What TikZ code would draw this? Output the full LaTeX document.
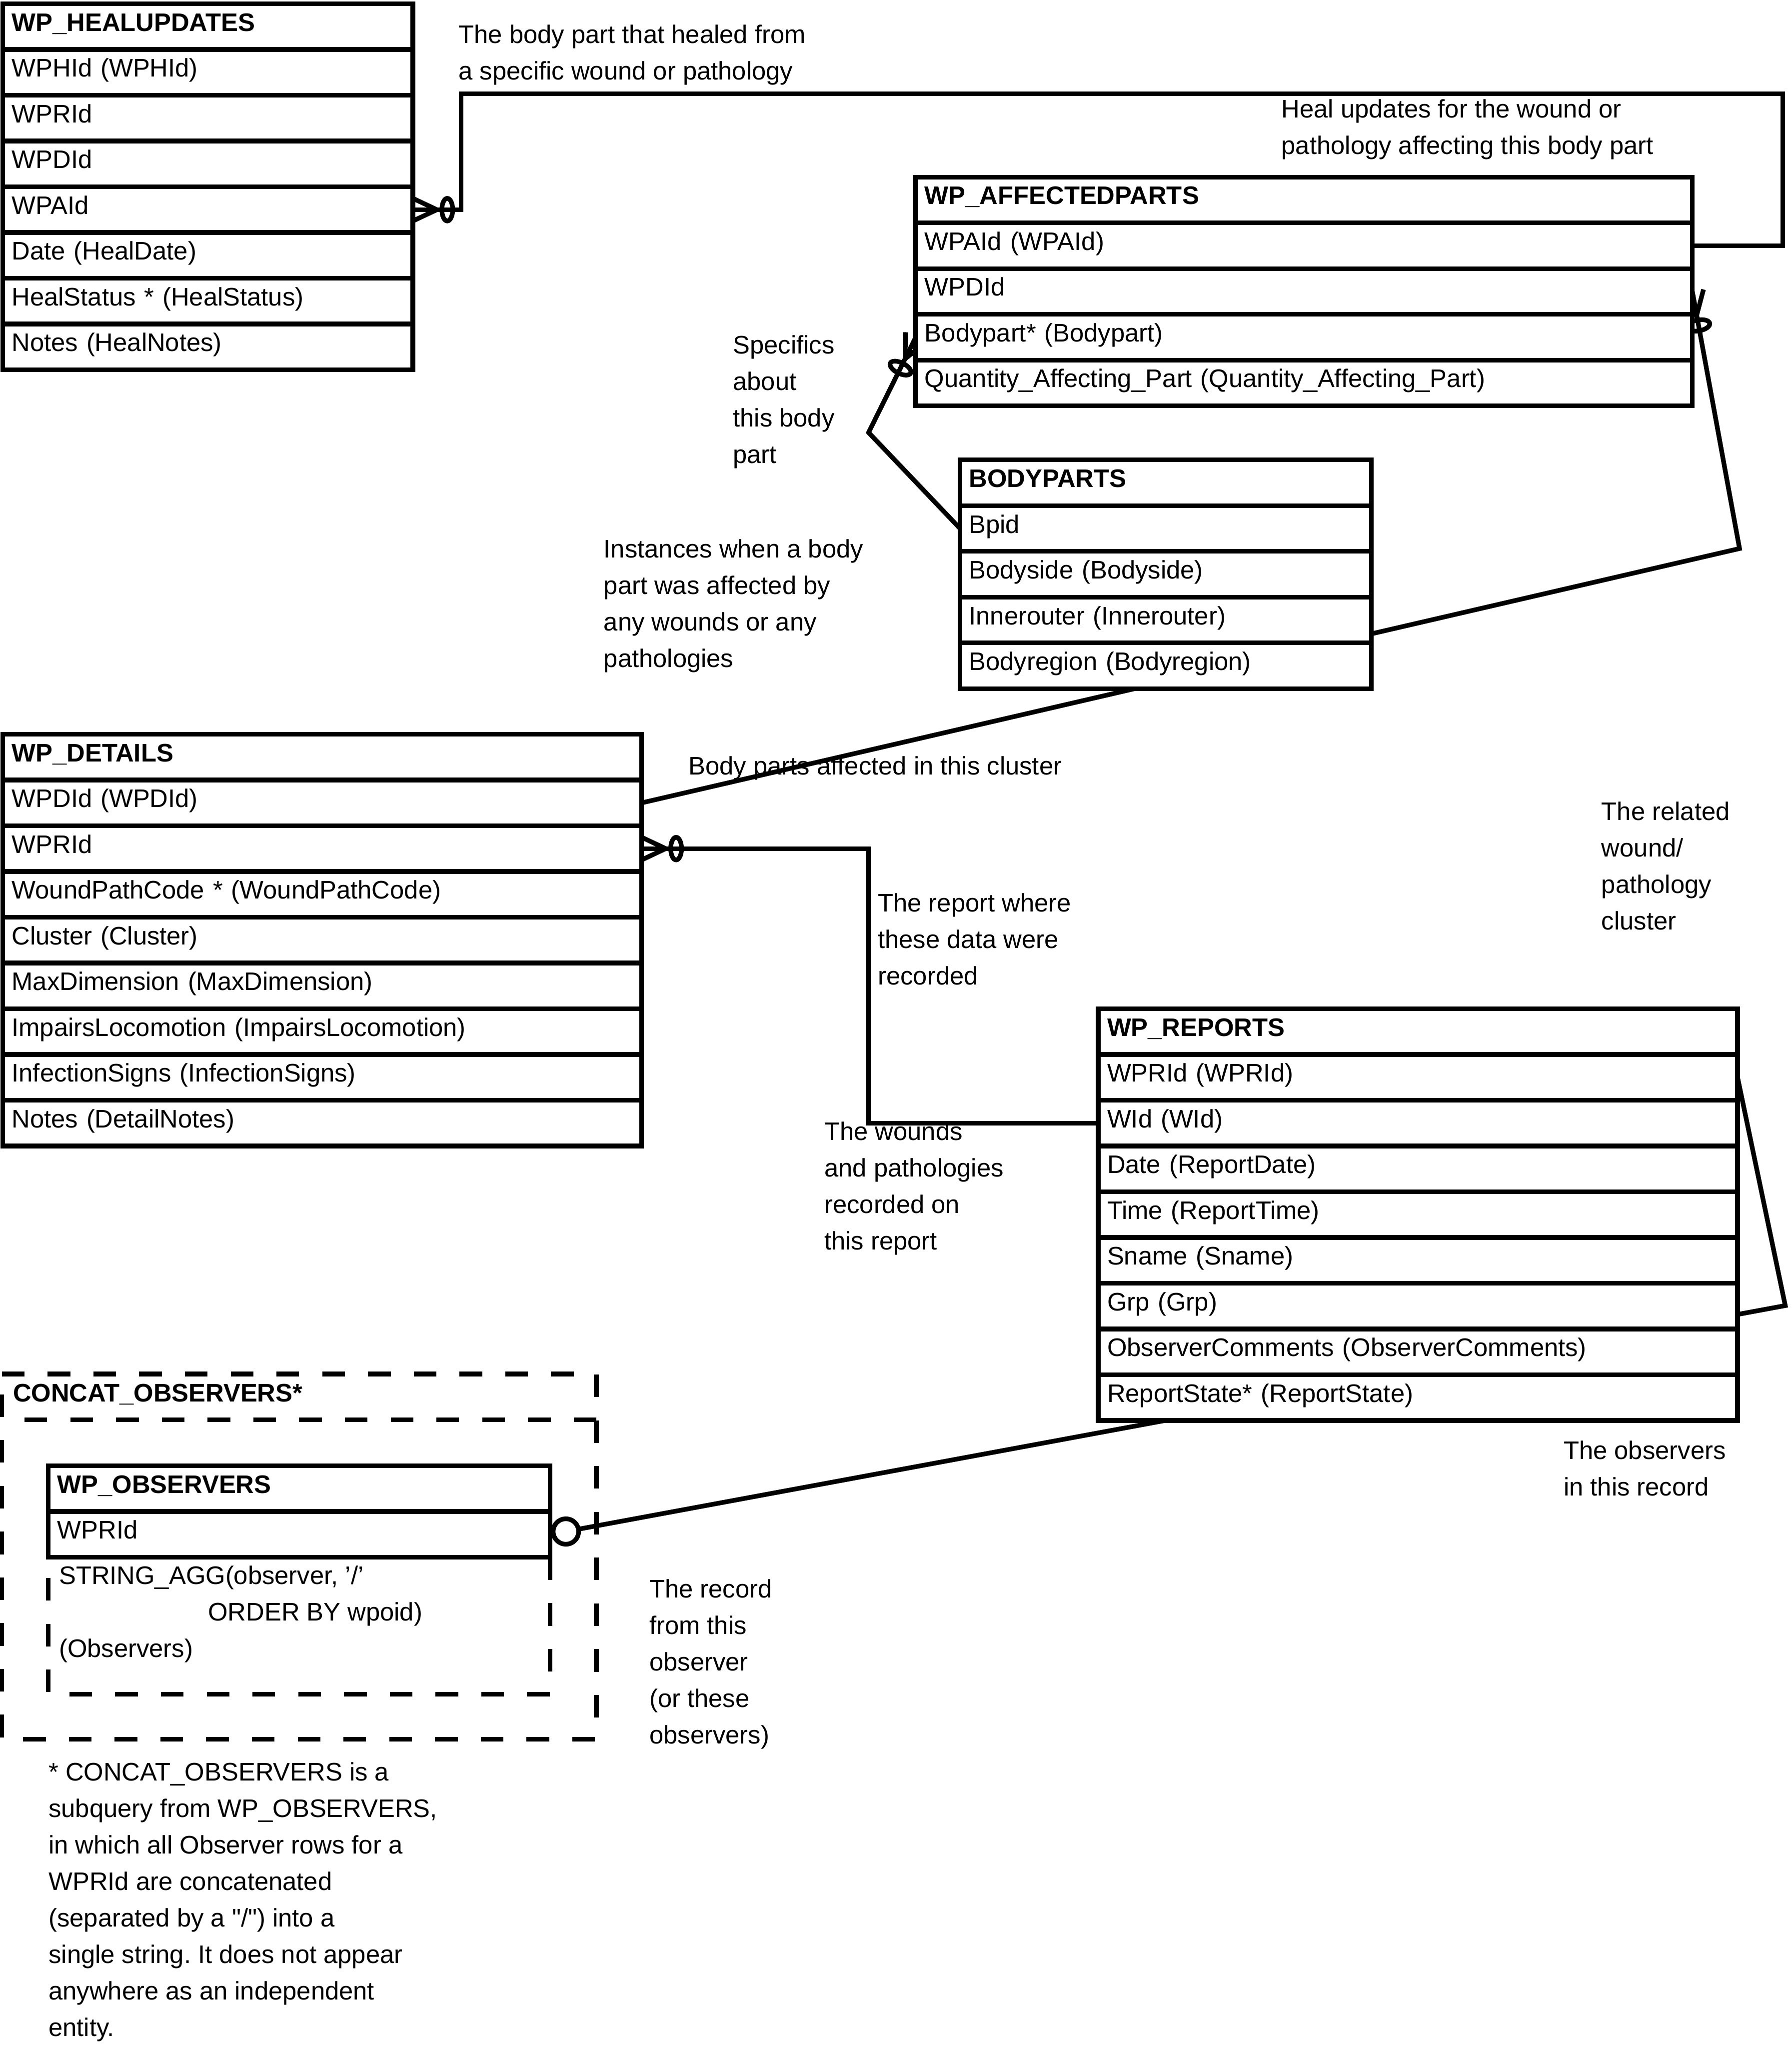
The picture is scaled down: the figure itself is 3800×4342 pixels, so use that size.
\documentclass[tikz,border=0pt]{standalone}
\usepackage{fontspec}
\setmainfont{Liberation Sans}
\newfontfamily\qfont{Liberation Sans}[Ligatures=TeXOff]
\usetikzlibrary{calc,backgrounds}
\newcommand\dfont{\fontsize{15.3pt}{22pt}\selectfont\frenchspacing}
% #1 name prefix, #2 x, #3 y (top), #4 text width, #5 header, #6 rows
\newcommand\ertable[6]{%
  \node[trow=#4, font=\dfont\bfseries] (#1h) at (#2,#3) {#5};
  \foreach \rtext [count=\ri] in {#6}{%
    \node[trow=#4] (#1\ri) at (#2,#3+\ri*97) {\rtext};
  }%
}
% crow's foot with circle: #1 end point on the box, #2 point the line goes to
\newcommand\crowsfoot[2]{%
  \draw[conn] ($(#1)!0.24cm!90:(#2)$) -- ($(#1)!0.51cm!(#2)$) -- ($(#1)!0.24cm!-90:(#2)$);
  \draw[conn] let \p1=($(#2)-(#1)$), \n1={atan2(\y1,\x1)} in
    ($(#1)!0.73cm!(#2)$) circle[x radius=0.115cm, y radius=0.24cm, rotate=\n1];
}
\begin{document}
\begin{tikzpicture}[x=0.01cm, y=-0.01cm,
  lw/.style={line width=2.8pt},
  trow/.style={draw, fill=white, lw, anchor=north west, outer sep=0pt,
    minimum height=0.97cm, inner xsep=0.19cm, inner ysep=0pt,
    text width=#1, align=left, text height=0.4cm, text depth=0.21cm, font=\dfont},
  lbl/.style={anchor=north west, align=left, inner sep=0pt, font=\dfont},
  conn/.style={lw, line join=miter},
  dbox/.style={lw, dash pattern=on 0.48cm off 0.49cm}
]
\useasboundingbox (0,0) rectangle (3800,4342);

% ---------- tables ----------
\ertable{hu}{6}{8}{8.31cm}{WP\_HEALUPDATES}{WPHId (WPHId), WPRId, WPDId, WPAId, Date (HealDate), HealStatus * (HealStatus), Notes (HealNotes)}
\ertable{ap}{1942}{375.5}{16.08cm}{WP\_AFFECTEDPARTS}{WPAId (WPAId), WPDId, Bodypart* (Bodypart), Quantity\_Affecting\_Part (Quantity\_Affecting\_Part)}
\ertable{bp}{2036}{975}{8.34cm}{BODYPARTS}{Bpid, Bodyside (Bodyside), Innerouter (Innerouter), Bodyregion (Bodyregion)}
\ertable{det}{6}{1556.6}{13.16cm}{WP\_DETAILS}{WPDId (WPDId), WPRId, WoundPathCode * (WoundPathCode), Cluster (Cluster), MaxDimension (MaxDimension), ImpairsLocomotion (ImpairsLocomotion), InfectionSigns (InfectionSigns), Notes (DetailNotes)}
\ertable{rep}{2329}{2138.5}{13.17cm}{WP\_REPORTS}{WPRId (WPRId), WId (WId), Date (ReportDate), Time (ReportTime), Sname (Sname), Grp (Grp), ObserverComments (ObserverComments), ReportState* (ReportState)}

% ---------- CONCAT_OBSERVERS ----------
\node[minimum width=12.6cm, minimum height=7.74cm, anchor=north west, inner sep=0pt, outer sep=0pt] (concat) at (4,2913) {};
\draw[dbox] (concat.north west) -- (concat.north east) -- (concat.south east) -- (concat.south west) -- cycle;
\coordinate (sep) at (0,3010);
\draw[dbox] (concat.east |- sep) -- (concat.west |- sep);
\node[anchor=base west, inner sep=0pt, font=\dfont\bfseries] (concathdr) at (27,2972) {CONCAT\_OBSERVERS*};

\ertable{obs}{102.5}{3107.6}{10.255cm}{WP\_OBSERVERS}{WPRId}
\coordinate (obsbot) at (0,3592);
\draw[dbox] (obs1.south east) -- (obs1.south east |- obsbot) -- (obs1.south west |- obsbot) -- (obs1.south west);
\node[lbl] (agg) at (124.6,3304) {\strut STRING\_AGG(observer, ’/’\\\hspace*{3.16cm}ORDER BY wpoid)\\(Observers)};

% ---------- labels ----------
\node[lbl] (l1) at (972,36.5) {\strut The body part that healed from\\a specific wound or pathology};
\node[lbl] (l2) at (2717,194.3) {\strut Heal updates for the wound or\\pathology affecting this body part};
\node[lbl] (l3) at (1553.8,695.6) {\strut Specifics\\about\\this body\\part};
\node[lbl] (l4) at (1279.6,1127.7) {\strut Instances when a body\\part was affected by\\any wounds or any\\pathologies};
\node[lbl] (l5) at (1459.6,1587.5) {\strut Body parts affected in this cluster};
\node[lbl] (l6) at (3395.6,1684.4) {\strut The related\\wound/\\pathology\\cluster};
\node[lbl] (l7) at (1861.2,1878.3) {\strut The report where\\these data were\\recorded};
\node[lbl] (l8) at (1747.7,2363) {\strut The wounds\\and pathologies\\recorded on\\this report};
\node[lbl] (l9) at (3315.3,3038.8) {\strut The observers\\in this record};
\node[lbl] (l10) at (1376.5,3332.4) {\strut The record\\from this\\observer\\(or these\\observers)};
\node[lbl] (foot) at (102.5,3720.2) {\strut * CONCAT\_OBSERVERS is a\\subquery from WP\_OBSERVERS,\\in which all Observer rows for a\\WPRId are concatenated\\(separated by a {\qfont"/"}) into a\\single string. It does not appear\\anywhere as an independent\\entity.};

% ---------- connectors ----------
\coordinate (k1a) at (978,199);
\coordinate (k1b) at (3781,199);
\coordinate (k1e) at (k1a |- hu4.east);
\coordinate (k2) at (1842,2000);
\coordinate (k2e) at (k2 |- det2.east);
\coordinate (k3) at (3689,1163);
\coordinate (k5) at (1842,917);
\coordinate (k6) at (3786,2768);

\begin{scope}[on background layer]
  \draw[conn] (hu4.east) -| (k1a) -- (k1b) |- (ap1.east);
  \crowsfoot{hu4.east}{k1e}
  \draw[conn] (det2.east) -| (k2) |- (rep2.west);
  \crowsfoot{det2.east}{k2e}
  \draw[conn] (det1.east) -- (k3) -- (ap2.east);
  \crowsfoot{ap2.east}{k3}
  \draw[conn] (bp1.west) -- (k5) -- (ap3.west);
  \crowsfoot{ap3.west}{k5}
  \draw[conn] (obs1.east) -- (k6) -- (rep1.east);
  \draw[conn, fill=white] ($(obs1.east)!0.34cm!(k6)$) circle[radius=0.27cm];
\end{scope}
\end{tikzpicture}
\end{document}
